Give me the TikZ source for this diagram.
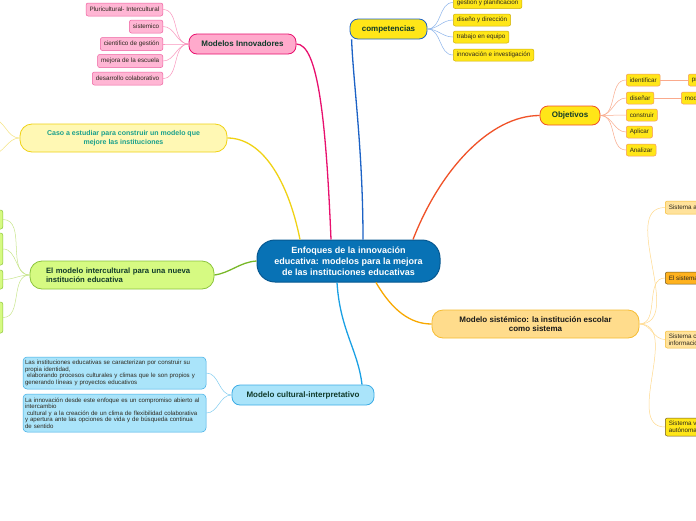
\documentclass[tikz,border=0pt]{standalone}
\usepackage{fontspec}
\setmainfont{Liberation Sans}
\usepackage{xcolor}
\usepackage{tikz}
\definecolor{coreblue}{RGB}{8,114,181}
\definecolor{coreedge}{RGB}{6,88,145}
\definecolor{inktopic}{RGB}{16,58,42}
\definecolor{inkleaf}{RGB}{45,40,30}
\definecolor{pinkline}{RGB}{232,16,110}
\definecolor{pinkfill}{RGB}{255,170,204}
\definecolor{pinkleaf}{RGB}{255,182,212}
\definecolor{pinkedge}{RGB}{238,96,160}
\definecolor{pinkthin}{RGB}{250,150,190}
\definecolor{compline}{RGB}{28,98,198}
\definecolor{sunfill}{RGB}{255,230,24}
\definecolor{sunedge}{RGB}{205,175,10}
\definecolor{compthin}{RGB}{140,180,235}
\definecolor{objline}{RGB}{240,82,40}
\definecolor{objedge}{RGB}{245,150,100}
\definecolor{objthin}{RGB}{250,170,140}
\definecolor{casoline}{RGB}{240,210,20}
\definecolor{casofill}{RGB}{255,248,180}
\definecolor{casotext}{RGB}{26,160,140}
\definecolor{casothin}{RGB}{245,228,130}
\definecolor{greenline}{RGB}{120,184,40}
\definecolor{greenfill}{RGB}{214,250,130}
\definecolor{greenedge}{RGB}{140,196,60}
\definecolor{greenthin}{RGB}{200,230,140}
\definecolor{skyline}{RGB}{26,160,228}
\definecolor{skyfill}{RGB}{170,228,250}
\definecolor{skyedge}{RGB}{60,172,230}
\definecolor{skythin}{RGB}{130,205,240}
\definecolor{sisline}{RGB}{248,168,0}
\definecolor{sisfill}{RGB}{255,220,140}
\definecolor{sisedge}{RGB}{246,188,50}
\definecolor{sisleaf}{RGB}{255,226,155}
\definecolor{sisthin}{RGB}{255,218,140}
\definecolor{ambfill}{RGB}{255,178,30}
\definecolor{darkedge}{RGB}{110,85,30}
\tikzset{
  core/.style={rectangle, draw=coreedge, fill=coreblue, text=white,
    font=\fontsize{9}{11}\selectfont\bfseries, align=center,
    minimum width=183pt, minimum height=42pt, rounded corners=18pt, line width=1pt},
  topic/.style={rectangle, text=inktopic, font=\fontsize{8}{9.5}\selectfont\bfseries,
    align=center, inner sep=2pt, rounded corners=8pt, line width=0.8pt},
  leaf/.style={rectangle, text=inkleaf, font=\fontsize{6.3}{7}\selectfont,
    align=left, inner xsep=3.5pt, inner ysep=1pt, minimum height=12pt,
    rounded corners=2pt, line width=0.5pt},
  note/.style={leaf, font=\fontsize{6.1}{6.6}\selectfont, text width=179pt,
    inner xsep=2pt, minimum width=183pt, rounded corners=4pt},
  branch/.style={line width=1.3pt},
  twig/.style={line width=0.5pt}
}
\begin{document}
\begin{tikzpicture}[x=1pt, y=-1pt]
  \fill[white] (0,0) rectangle (696,520);
  \useasboundingbox (0,0) rectangle (696,520);

  % Central topic
  \node[core] (core) at (348.5,261) {Enfoques de la innovación\\educativa: modelos para la mejora\\de las instituciones educativas};

  % Main topics
  \node[topic, draw=pinkline, fill=pinkfill, minimum width=107pt, minimum height=20pt] (innov) at (242.5,44) {Modelos Innovadores};
  \node[topic, draw=compline, fill=sunfill, minimum width=77pt, minimum height=20pt] (comp) at (388.5,29) {competencias};
  \node[topic, draw=objline, fill=sunfill, minimum width=60pt, minimum height=19pt] (obj) at (570,115.5) {Objetivos};
  \node[topic, draw=casoline, fill=casofill, text=casotext, font=\fontsize{7}{9}\selectfont\bfseries,
    minimum width=207pt, minimum height=28pt, rounded corners=12pt] (caso) at (123.5,138) {Caso a estudiar para construir un modelo que\\mejore las instituciones};
  \node[topic, draw=greenedge, fill=greenfill, font=\fontsize{7.7}{9}\selectfont\bfseries, align=left,
    text width=152pt, inner xsep=16pt, minimum height=28pt, rounded corners=12pt] (inter) at (122,275) {El modelo intercultural para una nueva\\institución educativa};
  \node[topic, draw=skyedge, fill=skyfill, minimum width=142pt, minimum height=20pt] (cult) at (303,395) {Modelo cultural-interpretativo};
  \node[topic, draw=sisedge, fill=sisfill, text=black!90, minimum width=207pt, minimum height=28pt,
    rounded corners=11pt] (sist) at (535.5,324) {Modelo sistémico: la institución escolar\\como sistema};

  % Modelos Innovadores leaves
  \node[leaf, draw=pinkedge, fill=pinkleaf, anchor=east, minimum height=13pt] (innov1) at (163,9.5) {Pluricultural- Intercultural};
  \node[leaf, draw=pinkedge, fill=pinkleaf, anchor=east, minimum height=13pt] (innov2) at (163,26.5) {sistemico};
  \node[leaf, draw=pinkedge, fill=pinkleaf, anchor=east, minimum height=13pt] (innov3) at (163,44) {cientifico de gestión};
  \node[leaf, draw=pinkedge, fill=pinkleaf, anchor=east, minimum height=13pt] (innov4) at (163,61) {mejora de la escuela};
  \node[leaf, draw=pinkedge, fill=pinkleaf, anchor=east, minimum height=13pt] (innov5) at (163,78.5) {desarrollo colaborativo};

  % competencias leaves
  \node[leaf, draw=sunedge, fill=sunfill, anchor=west] (comp1) at (453,2.5) {gestion y planificacion};
  \node[leaf, draw=sunedge, fill=sunfill, anchor=west] (comp2) at (453,20) {diseño y dirección};
  \node[leaf, draw=sunedge, fill=sunfill, anchor=west] (comp3) at (453,37) {trabajo en equipo};
  \node[leaf, draw=sunedge, fill=sunfill, anchor=west] (comp4) at (453,55) {innovación e investigación};

  % Objetivos leaves
  \node[leaf, draw=objedge, fill=sunfill, anchor=west] (obj1) at (626,80) {identificar};
  \node[leaf, draw=objedge, fill=sunfill, anchor=west] (obj2) at (626,98) {diseñar};
  \node[leaf, draw=objedge, fill=sunfill, anchor=west] (obj3) at (626,115) {construir};
  \node[leaf, draw=objedge, fill=sunfill, anchor=west] (obj4) at (626,132) {Aplicar};
  \node[leaf, draw=objedge, fill=sunfill, anchor=west] (obj5) at (626,150) {Analizar};
  \node[leaf, draw=objedge, fill=sunfill, anchor=west] (obj1a) at (688,80) {problemas};
  \node[leaf, draw=objedge, fill=sunfill, anchor=west] (obj2a) at (681,98) {modelos};

  % Caso leaves (off the page)
  \coordinate (caso1) at (-8,119);
  \coordinate (caso2) at (-8,154);

  % Intercultural leaves (cut by the left edge)
  \node[leaf, draw=greenedge, fill=greenfill, anchor=east, minimum width=24pt, minimum height=19pt] (inter1) at (3,219.5) {};
  \node[leaf, draw=greenedge, fill=greenfill, anchor=east, minimum width=24pt, minimum height=32pt] (inter2) at (3,249) {};
  \node[leaf, draw=greenedge, fill=greenfill, anchor=east, minimum width=24pt, minimum height=19pt] (inter3) at (3,279.5) {};
  \node[leaf, draw=greenedge, fill=greenfill, anchor=east, minimum width=24pt, minimum height=31pt] (inter4) at (3,317.5) {};

  % Cultural leaves
  \node[note, draw=skyedge, fill=skyfill, minimum height=32pt] (cult1) at (114.5,373) {Las instituciones educativas se caracterizan por construir su\\propia identidad,\\ \ elaborando procesos culturales y climas que le son propios y\\generando líneas y proyectos educativos};
  \node[note, draw=skyedge, fill=skyfill, minimum height=38pt] (cult2) at (114.5,413) {La innovación desde este enfoque es un compromiso abierto al\\intercambio\\ \ cultural y a la creación de un clima de flexibilidad colaborativa\\y apertura ante las opciones de vida y de búsqueda continua\\de sentido};

  % Sistemico leaves
  \node[leaf, draw=sisedge, fill=sisleaf, anchor=west, minimum height=13pt] (sist1) at (665,207.5) {Sistema abierto};
  \node[leaf, draw=darkedge, fill=ambfill, anchor=west] (sist2) at (665,278) {El sistema escolar};
  \node[leaf, draw=sisedge, fill=sisleaf, anchor=west, minimum height=17pt] (sist3) at (665,339.5) {Sistema cerrado de\\información};
  \node[leaf, draw=darkedge, fill=sunfill, anchor=west, minimum height=18pt] (sist4) at (665,427) {Sistema vivo\\autónoma};

  % Branches from the centre
  \draw[branch, pinkline] ([xshift=-17.5pt]core.north) .. controls (326,120) and (318,44) .. (innov.east);
  \draw[branch, compline] ([xshift=14.5pt]core.north) .. controls (363,150) and (353,80) .. ([xshift=2pt]comp.south west);
  \draw[branch, objline] ([xshift=64.5pt]core.north) .. controls (440,170) and (490,115.5) .. (obj.west);
  \draw[branch, casoline] ([xshift=-48.5pt]core.north) .. controls (288,180) and (262,138) .. (caso.east);
  \draw[branch, greenline] (core.west) .. controls (240,262) and (230,273) .. (inter.east);
  \draw[branch, skyline] ([xshift=-11.5pt]core.south) .. controls (340,330) and (358,350) .. ([xshift=59pt]cult.north);
  \draw[branch, sisline] ([xshift=27.5pt]core.south) .. controls (392,310) and (410,324) .. (sist.west);

  % Twigs
  \draw[twig, pinkthin] (innov.west) to[out=180, in=0] (innov1.east);
  \draw[twig, pinkthin] (innov.west) to[out=180, in=0] (innov2.east);
  \draw[twig, pinkthin] (innov.west) to[out=180, in=0] (innov3.east);
  \draw[twig, pinkthin] (innov.west) to[out=180, in=0] (innov4.east);
  \draw[twig, pinkthin] (innov.west) to[out=180, in=0] (innov5.east);

  \draw[twig, compthin] (comp.east) to[out=0, in=180] (comp1.west);
  \draw[twig, compthin] (comp.east) to[out=0, in=180] (comp2.west);
  \draw[twig, compthin] (comp.east) to[out=0, in=180] (comp3.west);
  \draw[twig, compthin] (comp.east) to[out=0, in=180] (comp4.west);

  \draw[twig, objthin] (obj.east) to[out=0, in=180] (obj1.west);
  \draw[twig, objthin] (obj.east) to[out=0, in=180] (obj2.west);
  \draw[twig, objthin] (obj.east) to[out=0, in=180] (obj3.west);
  \draw[twig, objthin] (obj.east) to[out=0, in=180] (obj4.west);
  \draw[twig, objthin] (obj.east) to[out=0, in=180] (obj5.west);
  \draw[twig, objthin] (obj1.east) -- (obj1a.west);
  \draw[twig, objthin] (obj2.east) -- (obj2a.west);

  \draw[twig, casothin] (caso.west) to[out=180, in=0] (caso1);
  \draw[twig, casothin] (caso.west) to[out=180, in=0] (caso2);

  \draw[twig, greenthin] (inter.west) to[out=180, in=0] (inter1.east);
  \draw[twig, greenthin] (inter.west) to[out=180, in=0] (inter2.east);
  \draw[twig, greenthin] (inter.west) to[out=180, in=0] (inter3.east);
  \draw[twig, greenthin] (inter.west) to[out=180, in=0] (inter4.east);

  \draw[twig, skythin] (cult.west) to[out=180, in=0] (cult1.east);
  \draw[twig, skythin] (cult.west) to[out=180, in=0] (cult2.east);

  \draw[twig, sisthin] (sist.east) to[out=0, in=180] (sist1.west);
  \draw[twig, sisthin] (sist.east) to[out=0, in=180] (sist2.west);
  \draw[twig, sisthin] (sist.east) to[out=0, in=180] (sist3.west);
  \draw[twig, sisthin] (sist.east) to[out=0, in=180] (sist4.west);
\end{tikzpicture}
\end{document}
